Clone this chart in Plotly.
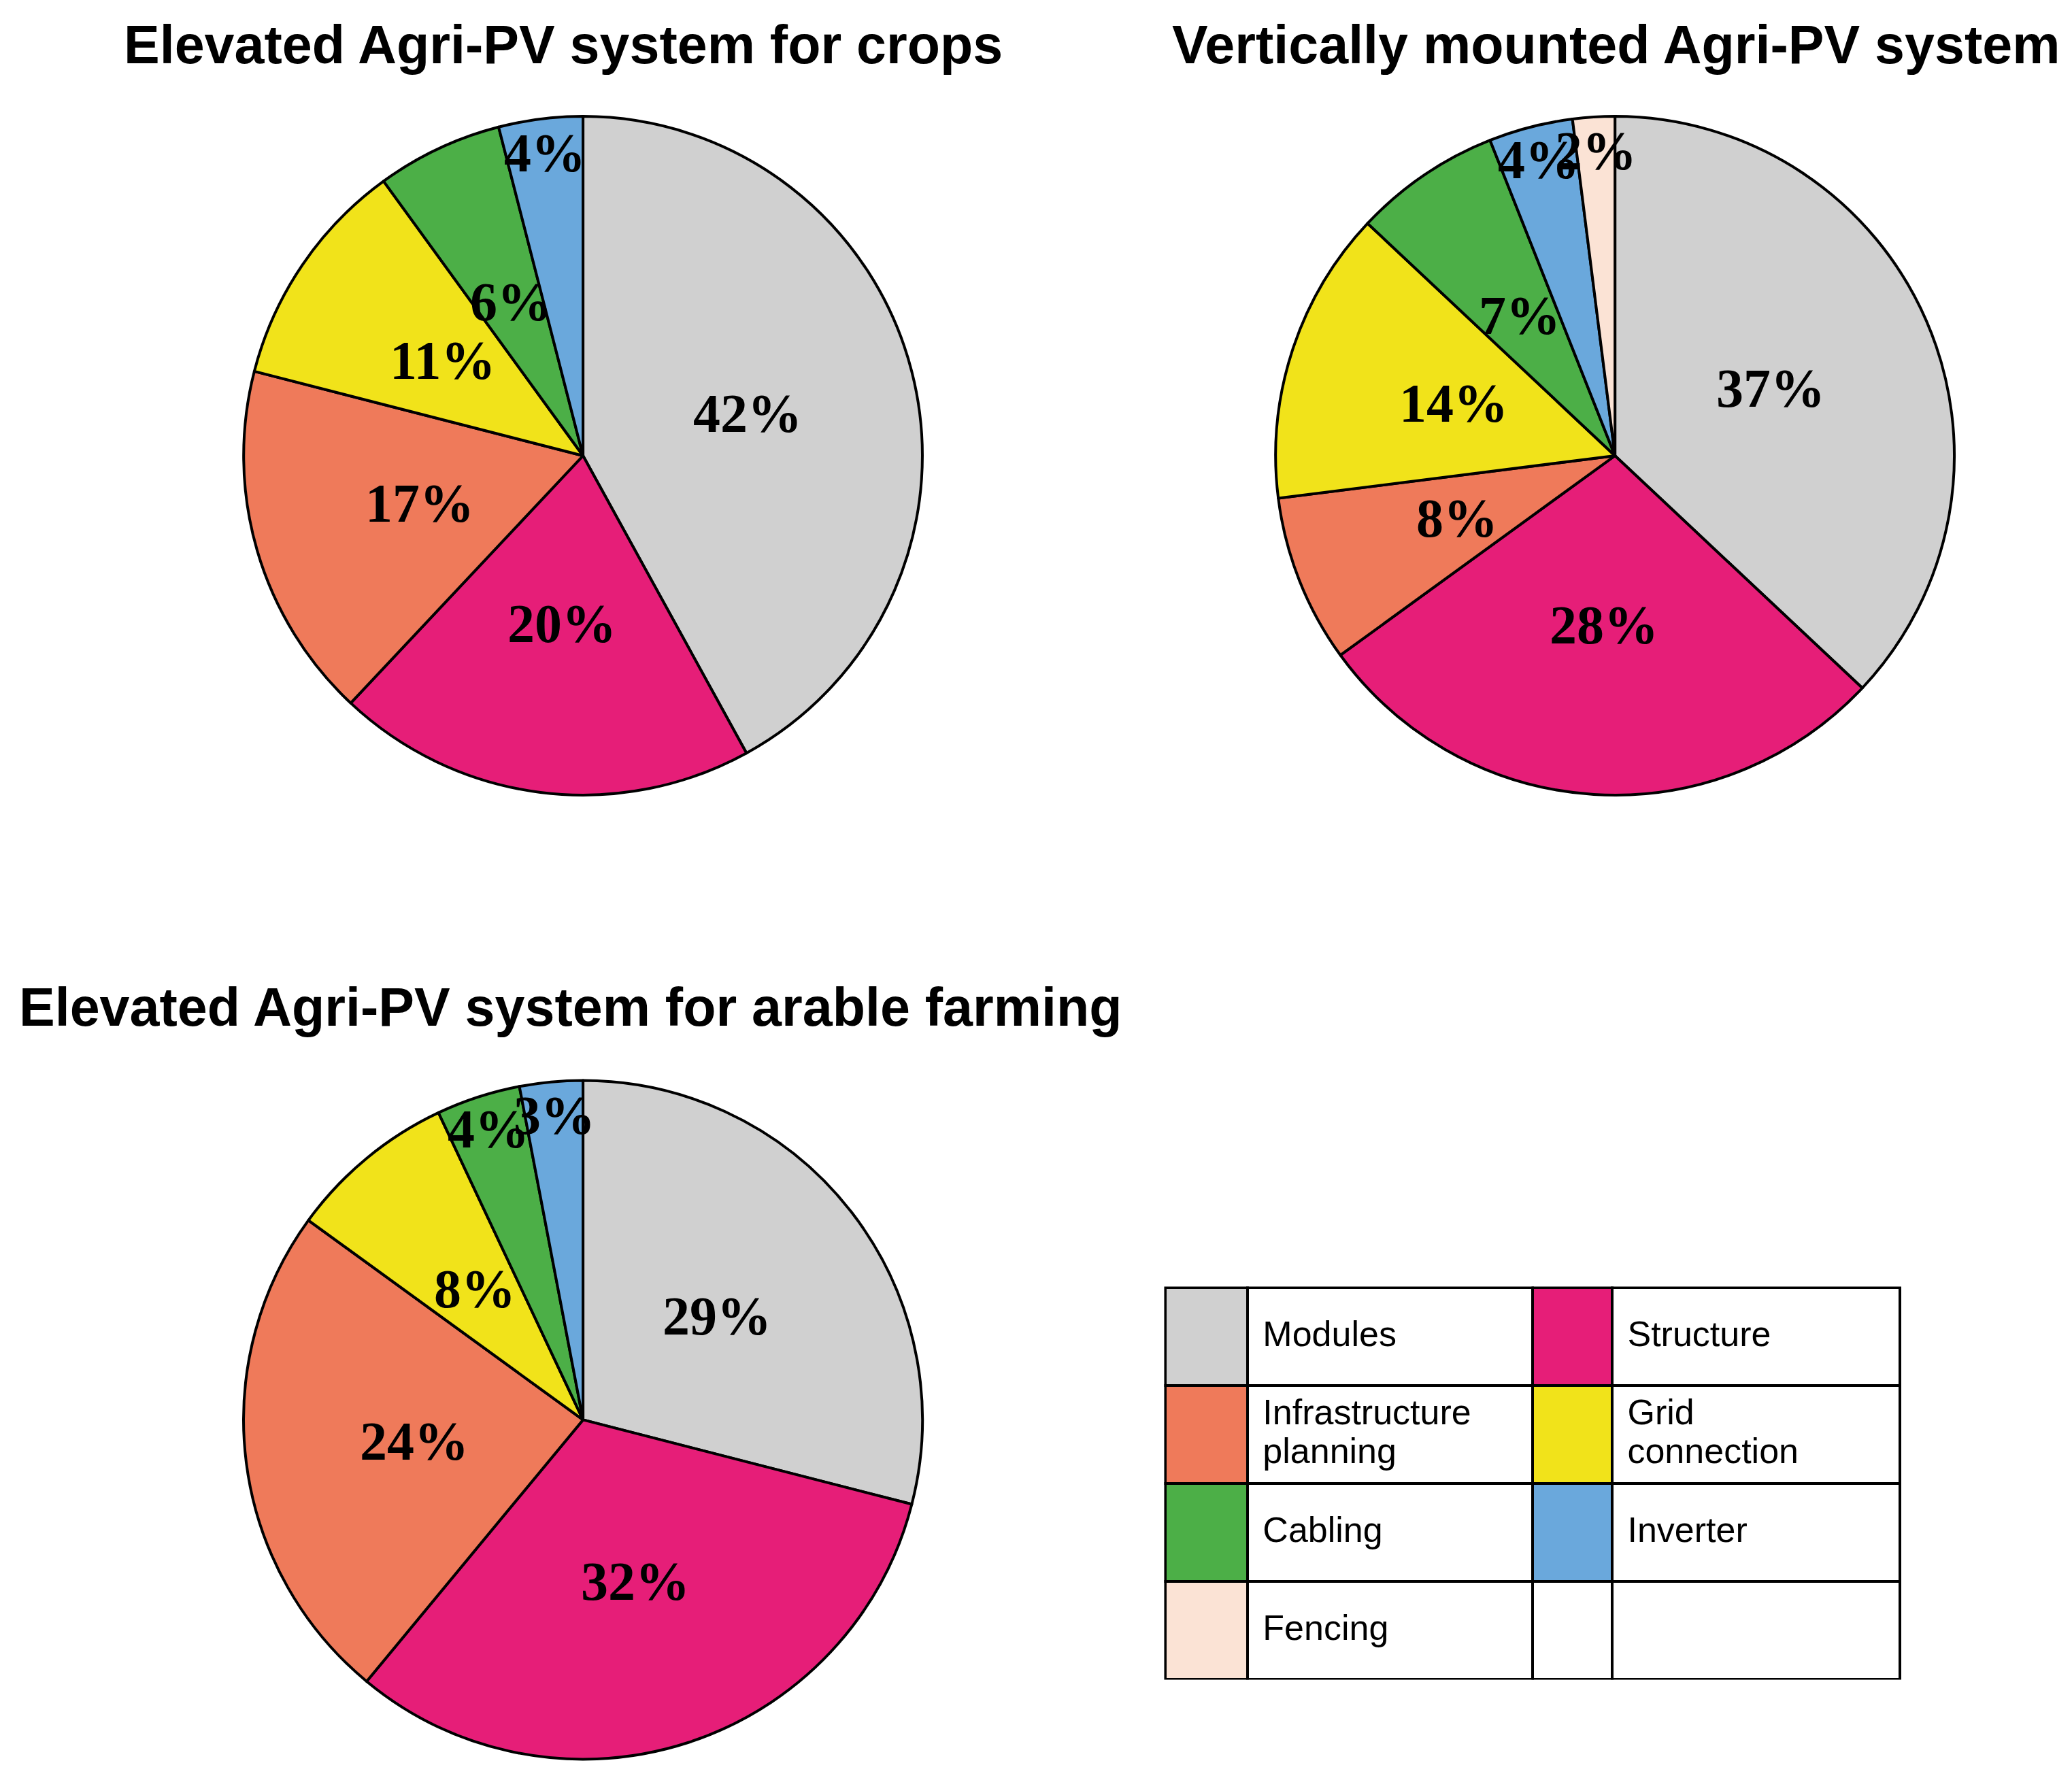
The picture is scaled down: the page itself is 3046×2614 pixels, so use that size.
import numpy as np
import plotly.graph_objects as go

# cost shares (%), clockwise from 12 o'clock
categories = ["Modules", "Structure", "Infrastructure planning", "Grid connection",
              "Cabling", "Inverter", "Fencing"]
crops = [42, 20, 17, 11, 6, 4]
vertical = [37, 28, 8, 14, 7, 4, 2]
arable = [29, 32, 24, 8, 4, 3]

titles = ["Elevated Agri-PV system for crops",
          "Vertically mounted Agri-PV system",
          "Elevated Agri-PV system for arable farming"]

colors = ["#d0d0d0", "#e61e78", "#ef7a5a", "#f1e31a", "#4caf47", "#6aa8dc", "#fbe3d5"]

W, H = 3046, 2614

fig = go.Figure()

domains = [
    dict(x=[0.1149, 0.4426], y=[0.5559, 0.9376]),
    dict(x=[0.6130, 0.9406], y=[0.5559, 0.9376]),
    dict(x=[0.1149, 0.4426], y=[0.0136, 0.3954]),
]

label_font = dict(family="Liberation Serif", size=80, color="black", weight="bold")

for i, (vals, dom) in enumerate(zip([crops, vertical, arable], domains), start=1):
    n = len(vals)
    fig.add_trace(go.Pie(
        labels=categories[:n],
        values=vals,
        domain=dom,
        sort=False,
        direction="clockwise",
        rotation=0,
        marker=dict(colors=colors[:n], line=dict(color="black", width=4)),
        textinfo="none",
        showlegend=False,
        hoverinfo="label+value",
    ))

    # hidden axes over the pie (range -1..1 = pie radius) to place the % labels
    # like the original: half way out, thin slices pushed out near the rim
    sfx = "" if i == 1 else str(i)
    fig.layout["xaxis" + sfx] = dict(domain=dom["x"], range=[-1, 1], visible=False,
                                     fixedrange=True, anchor="y" + sfx)
    fig.layout["yaxis" + sfx] = dict(domain=dom["y"], range=[-1, 1], visible=False,
                                     fixedrange=True, anchor="x" + sfx)
    v = np.array(vals, dtype=float)
    mid = (np.cumsum(v) - v / 2) / v.sum() * 2 * np.pi
    r = np.where(v <= 4, 0.9, 0.5)
    for val, a, rr in zip(vals, mid, r):
        fig.add_annotation(
            text="%d%%" % val, x=rr * np.sin(a), y=rr * np.cos(a),
            xref="x" + sfx, yref="y" + sfx, showarrow=False,
            xanchor="center", yanchor="middle", font=label_font,
        )

# legend drawn as a table: swatch | label | swatch | label
LEG_SIZE = 52
SMALL = 22  # size of the blank lines used to centre labels vertically in the cells

left = categories[0::2]
right = categories[1::2]
left_cols = colors[0::2]
right_cols = colors[1::2]


def big(s):
    return "<span style='font-size:%dpx'>\u00a0%s</span>" % (LEG_SIZE, s)


def fmt(s):
    if s == "":
        return ""
    if s in ("Infrastructure planning", "Grid connection"):
        a, b = s.split(" ")
        return "\u00a0<br>" + big(a) + "<br>\u00a0<br>" + big(b)
    return "\u00a0<br>\u00a0<br>" + big(s)


rows = max(len(left), len(right))
lab_l = [fmt(s) for s in left] + [""] * (rows - len(left))
lab_r = [fmt(s) for s in right] + [""] * (rows - len(right))
sw_l = left_cols + ["white"] * (rows - len(left_cols))
sw_r = right_cols + ["white"] * (rows - len(right_cols))

line = dict(color="black", width=4)
font = dict(family="Liberation Sans", color="black", size=[LEG_SIZE, SMALL, LEG_SIZE, SMALL])
fig.add_trace(go.Table(
    domain=dict(x=[0.5599, 0.9145], y=[0.058, 0.2787]),
    columnwidth=[62, 216, 60, 218],
    header=dict(
        values=["", lab_l[0], "", lab_r[0]],
        fill_color=[sw_l[0], "white", sw_r[0], "white"],
        line=line, align="left", font=font, height=144,
    ),
    cells=dict(
        values=[[""] * (rows - 1), lab_l[1:], [""] * (rows - 1), lab_r[1:]],
        fill_color=[sw_l[1:], ["white"] * (rows - 1), sw_r[1:], ["white"] * (rows - 1)],
        line=line, align="left", font=font, height=144,
    ),
))

title_pos = [(0.2691, 0.978), (0.7774, 0.978), (0.2729, 0.4367)]
for t, (x, y) in zip(titles, title_pos):
    fig.add_annotation(
        text=t, x=x, y=y, xref="paper", yref="paper",
        xanchor="center", yanchor="middle", showarrow=False,
        font=dict(family="Liberation Sans", size=79, color="black", weight="bold"),
    )

fig.update_layout(
    width=W, height=H,
    margin=dict(l=0, r=0, t=0, b=0),
    paper_bgcolor="white",
    plot_bgcolor="rgba(0,0,0,0)",
)

fig.write_html("out.html")
